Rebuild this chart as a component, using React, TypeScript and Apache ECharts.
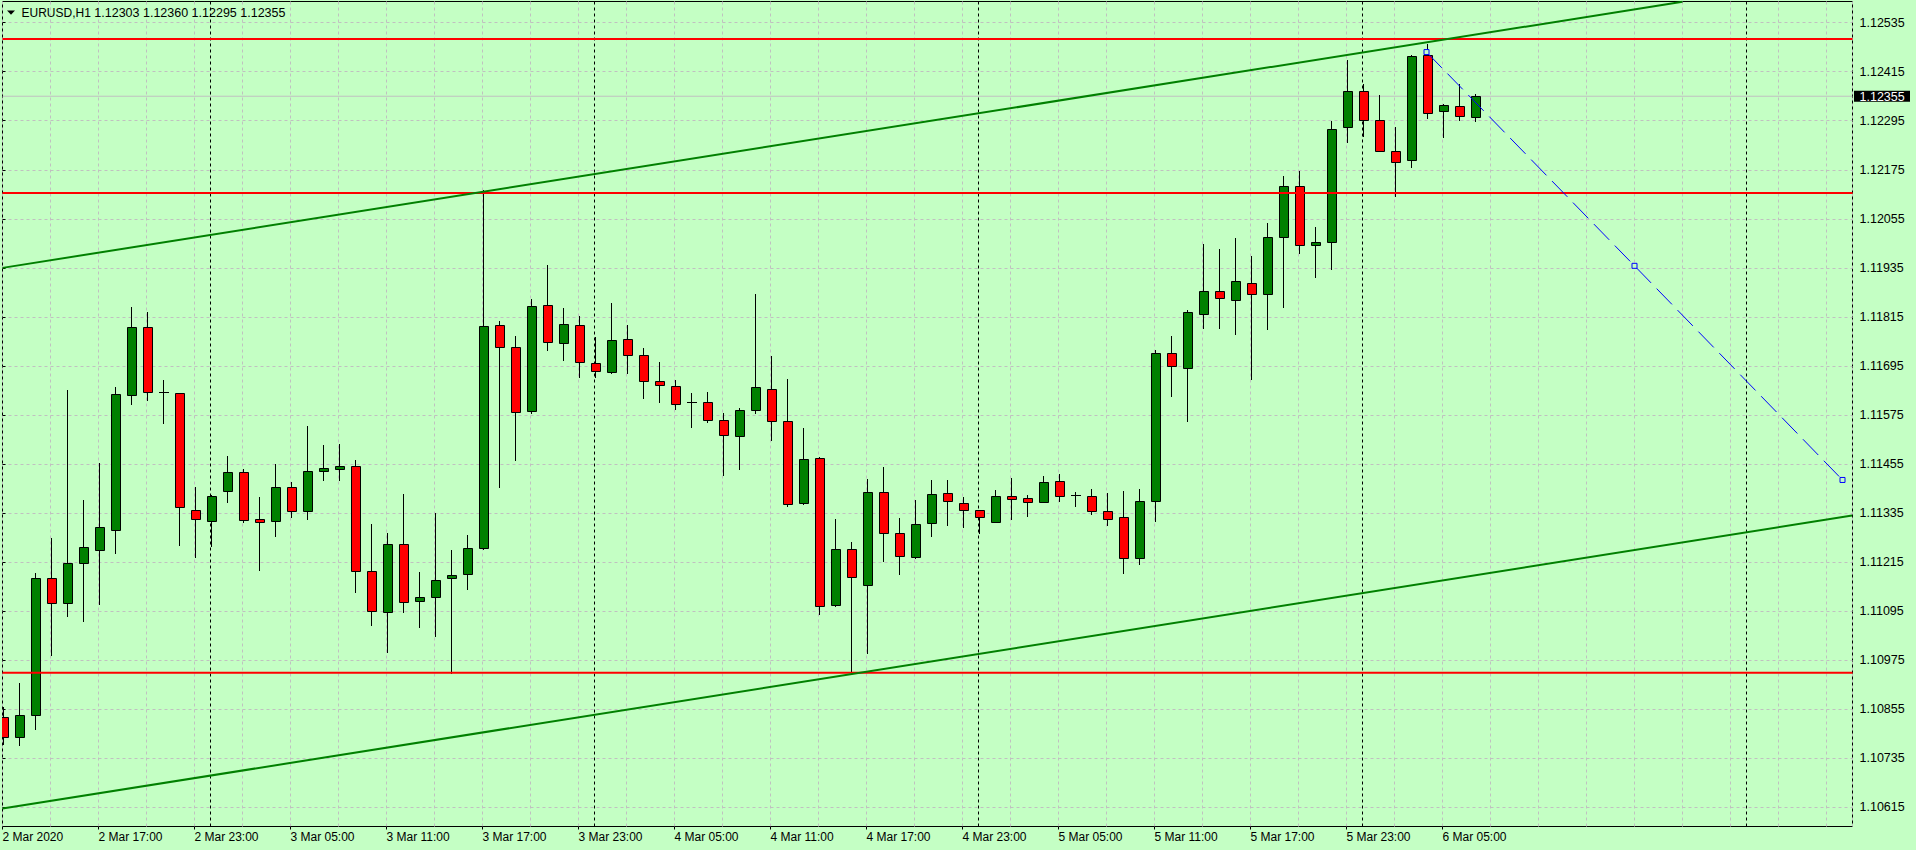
import React, { useEffect, useRef } from "react";
import * as echarts from "echarts";

// ---------------- data ----------------
const chartTitle = "EURUSD,H1";
const titleQuote = "1.12303 1.12360 1.12295 1.12355";

// hourly bars, first bar = 2 Mar 2020 11:00
const opens = [
  1.10835, 1.10788, 1.10842, 1.11175, 1.11116, 1.11212, 1.11244, 1.11293, 1.11623, 1.1179,
  1.11631, 1.11628, 1.11342, 1.11315, 1.11388, 1.11435, 1.1132, 1.11315, 1.11399, 1.11339,
  1.11438, 1.11443, 1.1145, 1.11193, 1.11093, 1.11259, 1.1112, 1.11129, 1.11176, 1.11186,
  1.11249, 1.11795, 1.11742, 1.11585, 1.11844, 1.11751, 1.11795, 1.11702, 1.1168, 1.11761,
  1.11722, 1.11658, 1.11646, 1.11606, 1.11607, 1.11563, 1.11524, 1.11587, 1.11639, 1.1156,
  1.11359, 1.1147, 1.1111, 1.11247, 1.11159, 1.11386, 1.11286, 1.11227, 1.11311, 1.11384,
  1.11359, 1.11342, 1.11313, 1.11377, 1.11372, 1.11362, 1.11413, 1.11379, 1.11377, 1.1134,
  1.11325, 1.11225, 1.11364, 1.11727, 1.1169, 1.11822, 1.11879, 1.11857, 1.11898, 1.11871,
  1.12011, 1.12136, 1.11991, 1.11999, 1.12279, 1.12367, 1.12298, 1.1222, 1.12198, 1.12455,
  1.12318, 1.1233, 1.12303,
];
const highs = [
  1.1086, 1.10919, 1.11188, 1.11274, 1.11636, 1.11367, 1.11457, 1.11644, 1.11839, 1.11827,
  1.11661, 1.1163, 1.11399, 1.11378, 1.11475, 1.11442, 1.11375, 1.11455, 1.11412, 1.11548,
  1.11502, 1.11504, 1.11465, 1.11309, 1.11287, 1.11382, 1.11191, 1.11335, 1.11245, 1.11282,
  1.12126, 1.11805, 1.11769, 1.1186, 1.11943, 1.11838, 1.11816, 1.11767, 1.11848, 1.11794,
  1.1174, 1.11705, 1.11661, 1.11629, 1.11632, 1.1158, 1.11592, 1.11871, 1.1172, 1.11663,
  1.11542, 1.11473, 1.1132, 1.11265, 1.11419, 1.11448, 1.11324, 1.11368, 1.11417, 1.11417,
  1.11374, 1.11343, 1.11391, 1.11422, 1.11379, 1.11426, 1.11431, 1.11386, 1.11394, 1.11384,
  1.11389, 1.11394, 1.11735, 1.11769, 1.11832, 1.11994, 1.1198, 1.12009, 1.11965, 1.12045,
  1.1216, 1.12173, 1.12035, 1.12295, 1.12443, 1.12384, 1.12358, 1.12279, 1.12457, 1.12482,
  1.12337, 1.12386, 1.1236,
];
const lows = [
  1.1077, 1.10768, 1.10807, 1.10988, 1.11084, 1.11071, 1.11113, 1.11238, 1.11603, 1.11612,
  1.11556, 1.11257, 1.11228, 1.11255, 1.11363, 1.11314, 1.11195, 1.1128, 1.11325, 1.1132,
  1.11417, 1.11415, 1.11143, 1.11062, 1.10994, 1.11094, 1.11055, 1.11035, 1.10944, 1.11148,
  1.11247, 1.11399, 1.11464, 1.1158, 1.11733, 1.11709, 1.11667, 1.11667, 1.11678, 1.11677,
  1.11616, 1.11606, 1.11589, 1.11545, 1.11558, 1.11427, 1.11444, 1.1158, 1.11513, 1.11352,
  1.11356, 1.11087, 1.11108, 1.10942, 1.10992, 1.11217, 1.11185, 1.11225, 1.1128, 1.11307,
  1.11302, 1.11286, 1.11312, 1.1132, 1.11329, 1.11361, 1.11364, 1.11352, 1.11333, 1.11306,
  1.11188, 1.1121, 1.11315, 1.11621, 1.1156, 1.11787, 1.11787, 1.11773, 1.11662, 1.11785,
  1.11839, 1.11972, 1.11912, 1.11932, 1.12244, 1.12257, 1.1222, 1.1211, 1.12181, 1.12301,
  1.12256, 1.12296, 1.12295,
];
const closes = [
  1.10788, 1.1084, 1.11177, 1.11116, 1.11212, 1.11251, 1.11302, 1.11626, 1.1179, 1.11631,
  1.1163, 1.11349, 1.1132, 1.11376, 1.11435, 1.11317, 1.11313, 1.11399, 1.11339, 1.11438,
  1.11445, 1.1145, 1.11193, 1.11095, 1.11259, 1.11117, 1.11129, 1.11171, 1.11183, 1.11249,
  1.11793, 1.11742, 1.11582, 1.11842, 1.11754, 1.11798, 1.11705, 1.11683, 1.11759, 1.11722,
  1.11658, 1.11648, 1.11602, 1.11606, 1.11563, 1.11526, 1.11587, 1.11644, 1.1156, 1.11357,
  1.11467, 1.11107, 1.11247, 1.11178, 1.11386, 1.11286, 1.1123, 1.11308, 1.11382, 1.11364,
  1.11342, 1.11325, 1.11377, 1.11369, 1.11362, 1.11411, 1.11377, 1.11379, 1.1134, 1.1132,
  1.11225, 1.11364, 1.11727, 1.11695, 1.11827, 1.11879, 1.11862, 1.11903, 1.11871, 1.12011,
  1.12136, 1.11991, 1.11999, 1.12276, 1.12367, 1.12298, 1.12222, 1.12195, 1.12453, 1.12315,
  1.12333, 1.12306, 1.12355,
];

// time labels, one every 6 bars starting with bar 0
const xTickLabels = [
  "2 Mar 2020", "2 Mar 17:00", "2 Mar 23:00", "3 Mar 05:00", "3 Mar 11:00", "3 Mar 17:00",
  "3 Mar 23:00", "4 Mar 05:00", "4 Mar 11:00", "4 Mar 17:00", "4 Mar 23:00", "5 Mar 05:00",
  "5 Mar 11:00", "5 Mar 17:00", "5 Mar 23:00", "6 Mar 05:00",
];
const xLabelStep = 6;
const xGridStep = 3;

// price scale ticks
const yTickStart = 1.10615;
const yTickStep = 0.0012;
const yTickCount = 17;

// objects
const horizontalLevels = [1.12495, 1.12118, 1.10944];
const daySeparators = [13, 37, 61, 85, 109]; // bar indexes of midnight
const upperChannel = [[0, 1.11935], [105, 1.12586]];
const lowerChannel = [[0, 1.10612], [115.6, 1.11329]];
const forecastLine = [[89, 1.12463], [102, 1.1194], [115, 1.11416]];
const bidPrice = 1.12355;

// ---------------- layout / style ----------------
const W = 1916;
const H = 850;
const PLOT_LEFT = 2.5;
const PLOT_RIGHT = 1852.5;
const PLOT_TOP = 1.5;
const PLOT_BOTTOM = 826.5;
const BAR_PX = 16;
const Y_PX_TOP_TICK = 22.67;
const Y_PX_BOTTOM_TICK = 807.3;

const BG = "#C4FFC4";
const GRID_C = "#C0C0C0";
const BULL = "#008000";
const BEAR = "#FF0000";
const FONT = "'Liberation Sans', Arial, sans-serif";

const X_MAX = (PLOT_RIGHT - PLOT_LEFT) / BAR_PX;
const yTickTop = yTickStart + (yTickCount - 1) * yTickStep;
const pxPerUnit = (Y_PX_BOTTOM_TICK - Y_PX_TOP_TICK) / (yTickTop - yTickStart);
const Y_A_MAX = yTickTop + (Y_PX_TOP_TICK - PLOT_TOP) / pxPerUnit;
const Y_A_MIN = yTickStart - (PLOT_BOTTOM - Y_PX_BOTTOM_TICK) / pxPerUnit;
const Y_B_MIN = +(yTickStart - yTickStep).toFixed(5);
const Y_B_MAX = +(yTickTop + yTickStep).toFixed(5);
const GRID_B_TOP = Y_PX_TOP_TICK - yTickStep * pxPerUnit;
const GRID_B_HEIGHT = (Y_B_MAX - Y_B_MIN) * pxPerUnit;

const labelValues = xTickLabels.map((_, k) => k * xLabelStep);

function buildOption(): any {
  const candleData = opens.map((o, i) => [i, o, closes[i], lows[i], highs[i]]);

  const renderCandle = (_params: any, api: any) => {
    const i = api.value(0);
    const o = api.value(1);
    const c = api.value(2);
    const l = api.value(3);
    const h = api.value(4);
    const pO = api.coord([i, o]);
    const pC = api.coord([i, c]);
    const pL = api.coord([i, l]);
    const pH = api.coord([i, h]);
    const n = Math.floor(pO[0] + 0.5);
    const wx = n + 0.5;
    const children: any[] = [
      {
        type: "line",
        shape: { x1: wx, y1: Math.round(pH[1]), x2: wx, y2: Math.round(pL[1]) + 1 },
        style: { stroke: "#000", lineWidth: 1 },
      },
    ];
    const top = Math.min(pO[1], pC[1]);
    const bot = Math.max(pO[1], pC[1]);
    if (Math.abs(c - o) < 0.000015) {
      const yy = Math.round(top) + 0.5;
      children.push({
        type: "line",
        shape: { x1: n - 4, y1: yy, x2: n + 6, y2: yy },
        style: { stroke: "#000", lineWidth: 1 },
      });
    } else {
      const yT = Math.round(top) + 0.5;
      const yB = Math.max(Math.round(bot) + 0.5, yT + 2);
      children.push({
        type: "rect",
        shape: { x: n - 3.5, y: yT, width: 9, height: yB - yT },
        style: { fill: c > o ? BULL : BEAR, stroke: "#000", lineWidth: 1 },
      });
    }
    return { type: "group", children };
  };

  const plainLine = (data: number[][], color: string, width: number, type: any, z: number) => ({
    type: "line",
    xAxisIndex: 0,
    yAxisIndex: 0,
    data,
    symbol: "none",
    showSymbol: false,
    lineStyle: { color, width, type },
    z,
    clip: true,
    silent: true,
    animation: false,
  });

  const series: any[] = [];

  daySeparators.forEach((d) => {
    series.push(plainLine([[d, Y_A_MIN], [d, Y_A_MAX]], "#000", 1, [3, 3], 1));
  });

  // bid line
  series.push(plainLine([[0, bidPrice], [X_MAX, bidPrice]], GRID_C, 1, "solid", 1));

  series.push({
    type: "custom",
    xAxisIndex: 0,
    yAxisIndex: 0,
    data: candleData,
    renderItem: renderCandle,
    clip: true,
    z: 2,
    silent: true,
    animation: false,
  });

  horizontalLevels.forEach((lv) => {
    series.push(plainLine([[0, lv], [X_MAX, lv]], "#FF0000", 2, "solid", 3));
  });
  series.push(plainLine(upperChannel, "#008000", 2, "solid", 3));
  series.push(plainLine(lowerChannel, "#008000", 2, "solid", 3));

  series.push({
    type: "line",
    xAxisIndex: 0,
    yAxisIndex: 0,
    data: forecastLine,
    symbol: "rect",
    symbolSize: 5,
    showSymbol: true,
    showAllSymbol: true,
    itemStyle: { color: BG, borderColor: "#0000FF", borderWidth: 1 },
    lineStyle: { color: "#0000FF", width: 1, type: [22, 8] },
    z: 4,
    clip: true,
    silent: true,
    animation: false,
  });

  const visibleMin = Y_A_MIN;
  const visibleMax = Y_A_MAX;

  return {
    animation: false,
    backgroundColor: BG,
    grid: [
      {
        left: PLOT_LEFT,
        top: PLOT_TOP,
        width: PLOT_RIGHT - PLOT_LEFT,
        height: PLOT_BOTTOM - PLOT_TOP,
        show: true,
        backgroundColor: BG,
        borderColor: "#000",
        borderWidth: 1,
        containLabel: false,
        outerBoundsMode: "none",
      },
      {
        left: PLOT_LEFT,
        top: GRID_B_TOP,
        width: PLOT_RIGHT - PLOT_LEFT,
        height: GRID_B_HEIGHT,
        show: false,
        containLabel: false,
        outerBoundsMode: "none",
      },
    ],
    xAxis: [
      {
        gridIndex: 0,
        type: "value",
        position: "bottom",
        min: 0,
        max: X_MAX,
        interval: xLabelStep,
        axisLine: { show: false },
        axisTick: {
          show: true,
          length: 3,
          lineStyle: { color: "#000" },
          customValues: labelValues,
        },
        splitLine: { show: false },
        axisLabel: {
          show: true,
          customValues: labelValues,
          align: "left",
          margin: 4,
          color: "#000",
          fontFamily: FONT,
          fontSize: 12,
          formatter: (v: number) => {
            const k = Math.round(v);
            if (Math.abs(v - k) > 1e-6 || k % xLabelStep !== 0) return "";
            return xTickLabels[k / xLabelStep] ?? "";
          },
        },
      },
      {
        gridIndex: 0,
        type: "value",
        position: "top",
        min: 0,
        max: X_MAX,
        interval: xGridStep,
        axisLine: { show: false },
        axisTick: { show: false },
        axisLabel: { show: false },
        splitLine: { show: true, lineStyle: { color: GRID_C, width: 1, type: [3, 3] } },
      },
      {
        gridIndex: 1,
        type: "value",
        min: 0,
        max: X_MAX,
        show: false,
      },
    ],
    yAxis: [
      {
        gridIndex: 0,
        type: "value",
        position: "left",
        min: Y_A_MIN,
        max: Y_A_MAX,
        show: false,
        splitLine: { show: false },
      },
      {
        gridIndex: 1,
        type: "value",
        position: "right",
        min: Y_B_MIN,
        max: Y_B_MAX,
        interval: yTickStep,
        axisLine: { show: false },
        axisTick: { show: true, length: 3, lineStyle: { color: "#000" } },
        splitLine: { show: true, lineStyle: { color: GRID_C, width: 1, type: [3, 3] } },
        showMinLabel: false,
        showMaxLabel: false,
        axisLabel: {
          show: true,
          margin: 7,
          color: "#000",
          fontFamily: FONT,
          fontSize: 12.5,
          formatter: (v: number) => (v < visibleMin || v > visibleMax ? "" : v.toFixed(5)),
        },
      },
    ],
    graphic: [
      {
        id: "tri",
        type: "polygon",
        shape: { points: [[7, 10.5], [15, 10.5], [11, 14.7]] },
        style: { fill: "#000" },
        z: 10,
        silent: true,
      },
      {
        id: "title",
        type: "text",
        x: 21.5,
        y: 13.3,
        style: {
          text: chartTitle,
          fill: "#000",
          font: `12px ${FONT}`,
          verticalAlign: "middle",
        },
        z: 10,
        silent: true,
      },
      {
        id: "quote",
        type: "text",
        x: 94.3,
        y: 13.3,
        style: {
          text: titleQuote,
          fill: "#000",
          font: `12.5px ${FONT}`,
          verticalAlign: "middle",
        },
        z: 10,
        silent: true,
      },
    ],
    series,
  };
}

export default function App() {
  const ref = useRef<HTMLDivElement>(null);
  useEffect(() => {
    document.body.style.margin = "0";
    document.body.style.background = BG;
    if (!ref.current) return;
    const chart = echarts.init(ref.current, undefined, { renderer: "svg" });
    chart.setOption(buildOption());
    // price box of the bid line, placed through the axis scale
    const p = chart.convertToPixel({ xAxisIndex: 0, yAxisIndex: 0 }, [X_MAX, bidPrice]) as number[];
    if (p && isFinite(p[0]) && isFinite(p[1])) {
      chart.setOption({
        graphic: [
          {
            id: "bidBox",
            type: "rect",
            shape: { x: p[0] + 1.5, y: p[1] - 5.5, width: 56, height: 11 },
            style: { fill: "#000" },
            z: 10,
            silent: true,
          },
          {
            id: "bidText",
            type: "text",
            x: p[0] + 7,
            y: p[1] + 0.5,
            style: {
              text: bidPrice.toFixed(5),
              fill: "#fff",
              font: `12.5px ${FONT}`,
              verticalAlign: "middle",
            },
            z: 11,
            silent: true,
          },
        ],
      });
    }
    return () => chart.dispose();
  }, []);
  return <div ref={ref} style={{ width: W, height: H, background: BG }} />;
}
